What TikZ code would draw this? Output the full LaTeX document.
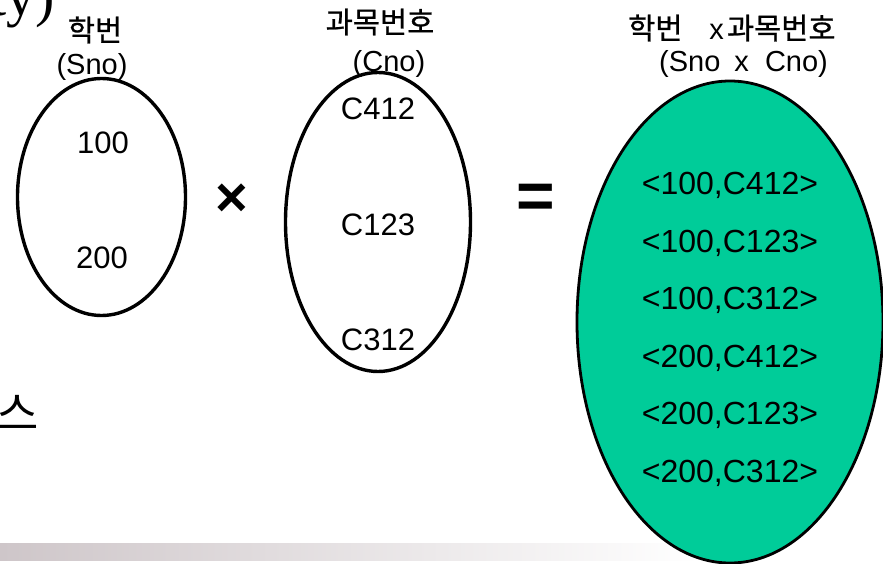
\documentclass[tikz,border=0pt]{standalone}
\usepackage{fontspec}
\setmainfont{Liberation Sans}
\newfontfamily\krfont[FakeBold=0.8]{Noto Sans CJK KR}
\newfontfamily\krthin{Noto Sans CJK KR}
\newfontfamily\serfont{Liberation Serif}
\usetikzlibrary{shapes.geometric}
\definecolor{setgreen}{RGB}{0,204,153}
\definecolor{barmauve}{RGB}{206,198,201}
\begin{document}
\begin{tikzpicture}[x=1pt, y=-1pt, inner sep=0pt]
    \tikzstyle{setell}=[draw, ellipse, line width=3.4pt, inner sep=0pt]
    \tikzstyle{elem}=[anchor=base, font=\fontsize{31}{31}\selectfont]
    \tikzstyle{pair}=[anchor=base, font=\fontsize{32}{32}\selectfont]
    \tikzstyle{lbl}=[anchor=base, font=\fontsize{29}{29}\selectfont]
    \tikzstyle{klbl}=[font=\fontsize{29.5}{29.5}\selectfont\krfont]
    \tikzstyle{oper}=[font=\bfseries]
    \def\pstep{57.4}

    \useasboundingbox (0,0) rectangle (883,564);

    % cut-off slide text
    \node[anchor=base east, font=\fontsize{58}{58}\selectfont\serfont] (ty) at (55,16) {ty)};
    \node[font=\fontsize{46}{46}\selectfont\krthin] (seu) at (18,413) {스};
    \shade[left color=barmauve, right color=white] (0,543) rectangle (700,560);

    % Sno
    \node[setell, minimum width=168pt, minimum height=237pt] (sno) at (101.5,197) {};
    \node[klbl] (snok) at (95,30) {학번};
    \node[lbl] (snol) at (92,75) {(Sno)};
    \node[elem] (s1) at (103,153.5) {100};
    \node[elem] (s2) at (102,268) {200};

    \node[oper, font=\fontsize{56}{56}\selectfont\bfseries] (times) at (232,200) {×};

    % Cno
    \node[setell, minimum width=185pt, minimum height=299pt] (cno) at (378,222) {};
    \node[klbl] (cnok) at (380,22) {과목번호};
    \node[lbl] (cnol) at (389,72) {(Cno)};
    \node[elem] (c1) at (378,120) {C412};
    \node[elem] (c2) at (378,235) {C123};
    \node[elem] (c3) at (378,350) {C312};

    \node[oper, font=\fontsize{66}{66}\selectfont\bfseries] (eq) at (536,201) {=};

    % Sno x Cno
    \node[setell, fill=setgreen, line width=2.8pt, minimum width=306pt, minimum height=482pt] (prod) at (730,322) {};
    \node[klbl, anchor=west] (prodk) at (628,28) {학번\hspace{27pt}{\fontsize{29}{29}\selectfont\rmfamily x}\hspace{3pt}과목번호};
    \node[lbl, anchor=base west] (prodl) at (659,72) {(Sno\hspace{6pt} x \hspace{8pt}Cno)};
    \foreach \pr [count=\i] in {{<100,C412>},{<100,C123>},{<100,C312>},{<200,C412>},{<200,C123>},{<200,C312>}}
        \node[pair] (p\i) at (730,{195+\pstep*(\i-1)}) {\pr};

\end{tikzpicture}
\end{document}
